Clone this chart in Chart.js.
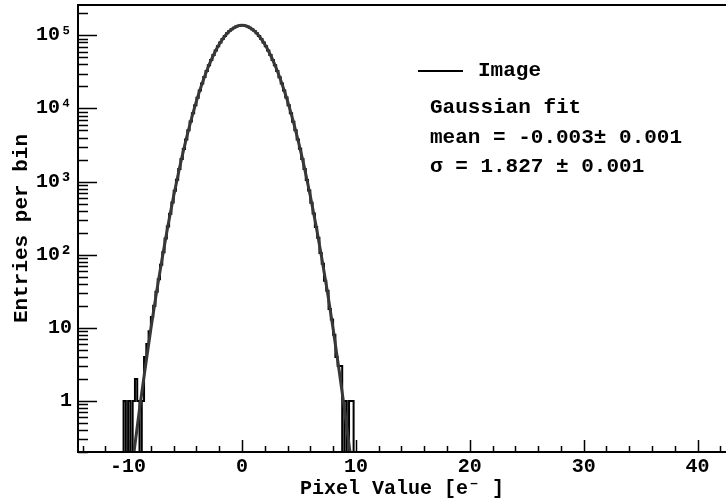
<!DOCTYPE html>
<html>
<head>
<meta charset="UTF-8">
<title>Pixel value distribution</title>
<script src="https://cdn.jsdelivr.net/npm/chart.js"></script>
<style>
  body { margin: 0; background: #fff; }
  #wrap { width: 726px; height: 503px; }
</style>
</head>
<body>
<div id="wrap"><canvas id="histChart"></canvas></div>
<script>
// histogram of pixel values, bins of 0.2 e- starting at -10.6
const histLow = -10.6;
const binWidth = 0.2;
const histCounts = [
  0, 1, 0, 1, 0, 1, 2, 1, 0, 1,
  4, 6, 9, 14, 20, 31, 46, 73, 108, 166,
  243, 362, 519, 748, 1055, 1483, 2041, 2793, 3762, 5021,
  6608, 8597, 11070, 14062, 17650, 21890, 26840, 32500, 38900, 46000,
  53750, 62060, 70800, 79800, 88900, 97800, 106400, 114300, 121400, 127300,
  132000, 135200, 136800,
  136700, 135100, 132100, 127200, 121500, 114200, 106500, 97700, 88800, 79900,
  70700, 62100, 53700, 46050, 38850, 32550, 26800, 21920, 17630, 14080,
  11050, 8610, 6590, 5035, 3750, 2801, 2036, 1490, 1049, 752,
  514, 366, 240, 170, 105, 75, 44, 32, 18, 13,
  8, 4, 3, 3, 0, 1, 0, 1, 1, 0
];

// gaussian fit curve
const fitX = [-10, -9.5, -9, -8.5, -8, -7.5, -7, -6.5, -6, -5.5, -5, -4.5, -4, -3.5, -3, -2.5, -2, -1.5, -1, -0.5,
  0, 0.5, 1, 1.5, 2, 2.5, 3, 3.5, 4, 4.5, 5, 5.5, 6, 6.5, 7, 7.5, 8, 8.5, 9, 9.5, 10];
const fitY = [0.04, 0.19, 0.77, 2.8, 9.7, 31, 91, 250, 634, 1500, 3280, 6670, 12600, 22000, 35700, 53800, 75300, 98000, 118000, 132000,
  137000, 132000, 118000, 98000, 75300, 53800, 35700, 22000, 12600, 6670, 3280, 1500, 634, 250, 91, 31, 9.7, 2.8, 0.77, 0.19, 0.04];

const yTickValues = [1, 10, 100, 1000, 10000, 100000];
const yTickLabels = ['1', '10', '10\u00B2', '10\u00B3', '10\u2074', '10\u2075'];
const xTickLabels = ['-10', '0', '10', '20', '30', '40'];

const legendLabel = 'Image';
const fitText = ['Gaussian fit', 'mean = -0.003\u00B1 0.001', '\u03C3 = 1.827 \u00B1 0.001'];

const monoFont = "'Liberation Mono', 'DejaVu Sans Mono', monospace";

// empty bins are drawn down to the bottom of the frame, like ROOT does
const histPoints = histCounts.map((c, i) => ({ x: histLow + (i + 0.5) * binWidth, y: c > 0 ? c : 0.001 }));
const fitPoints = fitX.map((v, i) => ({ x: v, y: fitY[i] }));

// ROOT style: ticks drawn inside the frame
const insideTicks = {
  id: 'insideTicks',
  afterDatasetsDraw(chart) {
    const { ctx, chartArea: ca, scales: { x, y } } = chart;
    ctx.save();
    ctx.strokeStyle = '#000';
    ctx.lineWidth = 1.5;
    ctx.beginPath();
    for (let v = Math.ceil(x.min / 2) * 2; v <= x.max; v += 2) {
      const px = Math.round(x.getPixelForValue(v)) + 0.5;
      const len = (v % 10 === 0) ? 12 : 6;
      ctx.moveTo(px, ca.bottom);
      ctx.lineTo(px, ca.bottom - len);
    }
    for (let e = -1; e <= 6; e++) {
      for (let m = 1; m <= 9; m++) {
        const v = m * Math.pow(10, e);
        if (v < y.min || v > y.max) continue;
        const py = Math.round(y.getPixelForValue(v)) + 0.5;
        ctx.moveTo(ca.left, py);
        ctx.lineTo(ca.left + (m === 1 ? 19 : 10), py);
      }
    }
    ctx.stroke();
    // frame (right side is outside the picture)
    ctx.lineWidth = 2;
    ctx.beginPath();
    ctx.moveTo(chart.width, ca.top);
    ctx.lineTo(ca.left, ca.top);
    ctx.lineTo(ca.left, ca.bottom);
    ctx.lineTo(chart.width, ca.bottom);
    ctx.stroke();
    ctx.restore();
  }
};

const fitLegend = {
  id: 'fitLegend',
  afterDraw(chart) {
    const { ctx, chartArea: ca } = chart;
    const lx = ca.left + 340;
    const ly = ca.top + 66;
    ctx.save();
    ctx.strokeStyle = '#000';
    ctx.lineWidth = 2;
    ctx.beginPath();
    ctx.moveTo(lx, ly);
    ctx.lineTo(lx + 45, ly);
    ctx.stroke();
    ctx.fillStyle = '#000';
    ctx.textBaseline = 'middle';
    ctx.font = 'bold 21px ' + monoFont;
    ctx.fillText(legendLabel, lx + 60, ly);
    const rows = [103, 133, 162];
    fitText.forEach((t, i) => ctx.fillText(t, ca.left + 352, ca.top + rows[i]));
    ctx.restore();
  }
};

new Chart(document.getElementById('histChart'), {
  type: 'line',
  data: {
    datasets: [
      {
        label: 'Gaussian fit',
        data: fitPoints,
        borderColor: '#383838',
        borderWidth: 3,
        pointRadius: 0,
        cubicInterpolationMode: 'monotone',
        fill: false
      },
      {
        label: legendLabel,
        data: histPoints,
        borderColor: '#000',
        borderWidth: 2,
        pointRadius: 0,
        stepped: 'middle',
        fill: false
      }
    ]
  },
  options: {
    responsive: true,
    maintainAspectRatio: false,
    animation: false,
    layout: { padding: { top: 5, right: 0, left: 0, bottom: 0 } },
    plugins: { legend: { display: false }, tooltip: { enabled: false } },
    scales: {
      x: {
        type: 'linear',
        min: -14.4,
        max: 42.5,
        grid: { display: false, drawTicks: false },
        border: { display: false },
        afterBuildTicks: (s) => { s.ticks = xTickLabels.map(t => ({ value: Number(t) })); },
        afterFit: (s) => { s.height = 51; s.paddingLeft = 0; s.paddingRight = 0; },
        ticks: {
          padding: 3,
          maxRotation: 0,
          color: '#000',
          font: { family: monoFont, size: 20, weight: 'bold' },
          callback: (v) => xTickLabels[xTickLabels.indexOf(String(v))]
        },
        title: {
          display: true,
          text: 'Pixel Value [e\u207B ]',
          color: '#000',
          font: { family: monoFont, size: 20, weight: 'bold' },
          padding: { top: 0, bottom: 2 }
        }
      },
      y: {
        type: 'logarithmic',
        min: 0.2,
        max: 260000,
        grid: { display: false, drawTicks: false },
        border: { display: false },
        afterBuildTicks: (s) => { s.ticks = yTickValues.map(v => ({ value: v })); },
        afterFit: (s) => { s.width = 78; s.paddingTop = 0; s.paddingBottom = 0; },
        ticks: {
          padding: 6,
          color: '#000',
          font: { family: monoFont, size: 20, weight: 'bold' },
          callback: (v) => yTickLabels[yTickValues.indexOf(v)]
        },
        title: {
          display: true,
          text: 'Entries per bin',
          color: '#000',
          font: { family: monoFont, size: 21, weight: 'bold' },
          padding: { top: 9, bottom: 0 }
        }
      }
    }
  },
  plugins: [insideTicks, fitLegend]
});
</script>
</body>
</html>
